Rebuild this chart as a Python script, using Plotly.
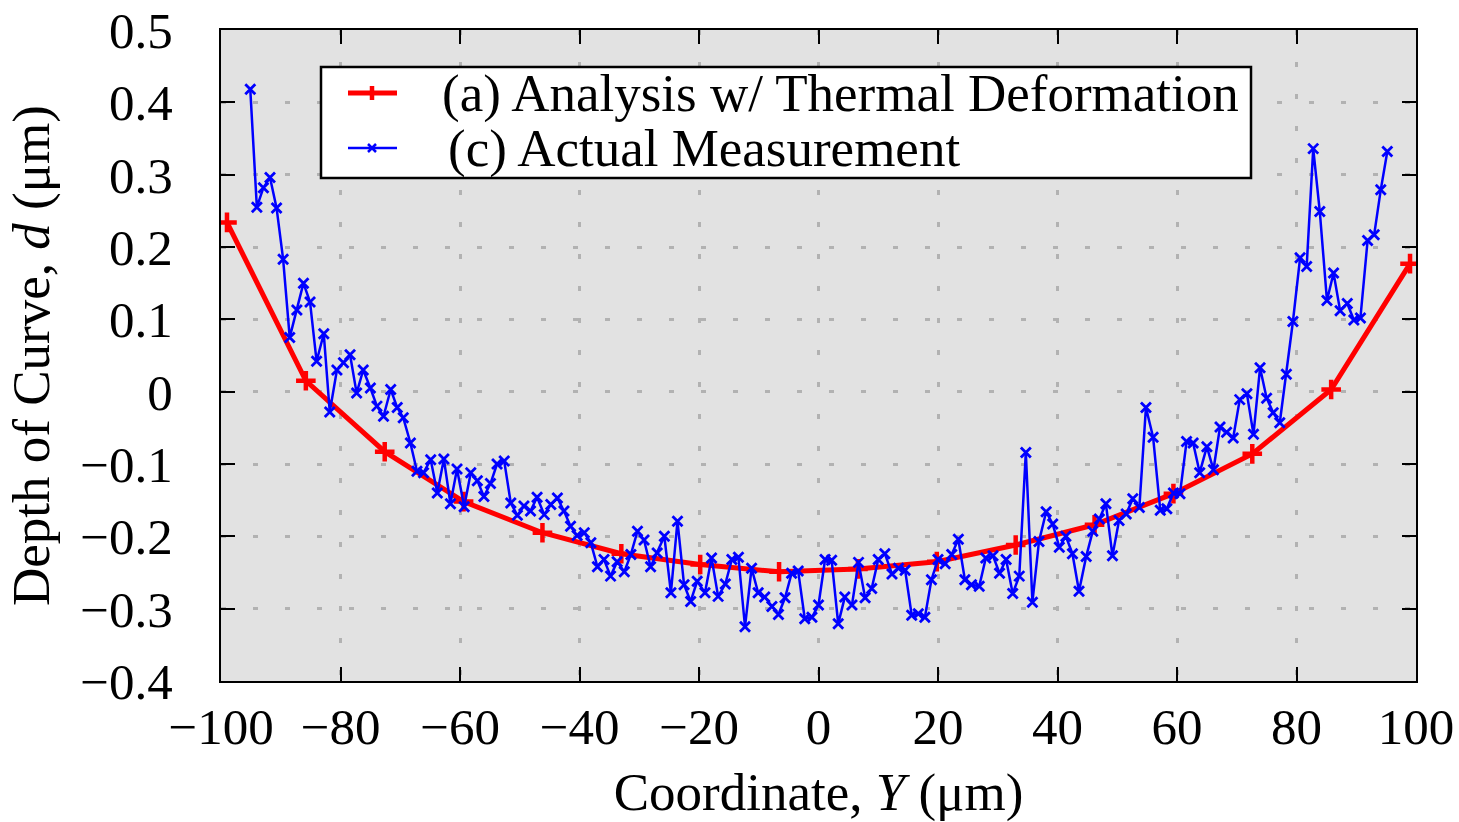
import plotly.graph_objects as go

# (a) Analysis w/ Thermal Deformation
analysis_x = [-99.0, -85.8, -72.6, -59.4, -46.2, -33.0, -19.8, -6.6,
              6.6, 19.8, 33.0, 46.2, 59.4, 72.6, 85.8, 99.0]
analysis_y = [0.234, 0.015, -0.083, -0.152, -0.195, -0.224, -0.239, -0.249,
              -0.245, -0.235, -0.212, -0.184, -0.141, -0.086, 0.003, 0.177]

# (c) Actual Measurement
meas_x = [-95.1, -94.0, -92.9, -91.8, -90.7, -89.6, -88.5, -87.3, -86.2, -85.1,
          -84.0, -82.8, -81.8, -80.6, -79.5, -78.4, -77.3, -76.2, -75.0, -73.9,
          -72.8, -71.6, -70.5, -69.5, -68.3, -67.2, -66.1, -64.9, -63.8, -62.7,
          -61.6, -60.5, -59.3, -58.2, -57.1, -56.0, -54.9, -53.8, -52.6, -51.5,
          -50.4, -49.3, -48.2, -47.1, -45.9, -44.8, -43.7, -42.6, -41.5, -40.4,
          -39.2, -38.1, -37.0, -35.9, -34.8, -33.7, -32.5, -31.4, -30.3, -29.2,
          -28.1, -27.0, -25.8, -24.7, -23.6, -22.5, -21.4, -20.3, -19.0, -17.9,
          -16.8, -15.6, -14.5, -13.4, -12.3, -11.2, -10.1, -9.0, -7.8, -6.7,
          -5.6, -4.5, -3.4, -2.3, -1.1, 0.0, 1.1, 2.2, 3.3, 4.4,
          5.6, 6.7, 7.8, 8.9, 10.0, 11.1, 12.3, 13.4, 14.5, 15.6,
          16.7, 17.8, 18.9, 20.0, 21.2, 22.3, 23.4, 24.5, 25.6, 26.9,
          28.0, 29.2, 30.3, 31.4, 32.5, 33.6, 34.7, 35.8, 36.9, 38.1,
          39.2, 40.3, 41.4, 42.5, 43.6, 44.8, 45.9, 47.0, 48.1, 49.2,
          50.3, 51.5, 52.6, 53.7, 54.8, 56.0, 57.2, 58.3, 59.4, 60.5,
          61.6, 62.7, 63.8, 65.0, 66.1, 67.2, 68.3, 69.4, 70.5, 71.7,
          72.8, 73.9, 75.0, 76.1, 77.2, 78.3, 79.4, 80.6, 81.7, 82.8,
          83.9, 85.1, 86.2, 87.3, 88.5, 89.6, 90.7, 91.9, 93.0, 94.1,
          95.2]
meas_y = [0.418, 0.255, 0.282, 0.296, 0.254, 0.183, 0.075, 0.113, 0.150, 0.124,
          0.042, 0.080, -0.028, 0.030, 0.040, 0.051, -0.002, 0.030, 0.005, -0.020,
          -0.034, 0.003, -0.022, -0.036, -0.071, -0.110, -0.112, -0.094, -0.140, -0.093,
          -0.155, -0.107, -0.159, -0.112, -0.123, -0.145, -0.127, -0.100, -0.096, -0.154,
          -0.171, -0.158, -0.165, -0.146, -0.170, -0.156, -0.147, -0.165, -0.186, -0.199,
          -0.195, -0.209, -0.242, -0.232, -0.255, -0.235, -0.249, -0.225, -0.193, -0.205,
          -0.242, -0.223, -0.200, -0.278, -0.179, -0.267, -0.290, -0.262, -0.278, -0.230,
          -0.283, -0.266, -0.232, -0.229, -0.325, -0.244, -0.278, -0.284, -0.297, -0.308,
          -0.285, -0.251, -0.248, -0.314, -0.312, -0.295, -0.232, -0.233, -0.321, -0.284,
          -0.295, -0.236, -0.285, -0.272, -0.232, -0.224, -0.252, -0.244, -0.247, -0.309,
          -0.307, -0.312, -0.260, -0.232, -0.238, -0.225, -0.204, -0.260, -0.267, -0.269,
          -0.230, -0.227, -0.251, -0.232, -0.279, -0.255, -0.084, -0.291, -0.207, -0.166,
          -0.183, -0.215, -0.200, -0.224, -0.276, -0.228, -0.193, -0.176, -0.155, -0.227,
          -0.178, -0.169, -0.148, -0.160, -0.022, -0.063, -0.164, -0.162, -0.140, -0.141,
          -0.069, -0.071, -0.112, -0.076, -0.108, -0.049, -0.056, -0.064, -0.011, -0.003,
          -0.059, 0.033, -0.009, -0.029, -0.043, 0.024, 0.097, 0.185, 0.173, 0.336,
          0.249, 0.126, 0.164, 0.112, 0.122, 0.099, 0.102, 0.209, 0.217, 0.279,
          0.332]

series_names = ["(a) Analysis w/ Thermal Deformation", "(c) Actual Measurement"]

x_ticks = [-100, -80, -60, -40, -20, 0, 20, 40, 60, 80, 100]
y_ticks = [-0.4, -0.3, -0.2, -0.1, 0, 0.1, 0.2, 0.3, 0.4, 0.5]
y_tick_text = ["\u22120.4", "\u22120.3", "\u22120.2", "\u22120.1", "0",
               "0.1", "0.2", "0.3", "0.4", "0.5"]
x_tick_text = ["\u2212100", "\u221280", "\u221260", "\u221240", "\u221220", "0",
               "20", "40", "60", "80", "100"]

FONT = "Liberation Serif, Times New Roman, serif"
RED = "#ff0000"
BLUE = "#0000ff"
FS = 51      # tick labels
FT = 53      # axis titles and legend

W, H = 1459, 822
ML, MR, MT, MB = 221, 43, 30, 141
PW, PH = W - ML - MR, H - MT - MB


def px(xp):
    return (xp - ML) / PW


def py(yp):
    return (H - MB - yp) / PH


fig = go.Figure()
fig.add_trace(go.Scatter(
    x=analysis_x, y=analysis_y, mode="lines+markers", name=series_names[0],
    line=dict(color=RED, width=5),
    marker=dict(symbol="cross-thin", size=14, color=RED,
                line=dict(color=RED, width=4.5)),
    showlegend=False,
))
fig.add_trace(go.Scatter(
    x=meas_x, y=meas_y, mode="lines+markers", name=series_names[1],
    line=dict(color=BLUE, width=2.5),
    marker=dict(symbol="x-thin", size=10, color=BLUE,
                line=dict(color=BLUE, width=2.8)),
    showlegend=False,
))

axis_common = dict(
    showline=True, linecolor="black", linewidth=2, mirror="ticks",
    ticks="inside", ticklen=14, tickwidth=2, tickcolor="black",
    showgrid=True, gridcolor="#b2b2b2", griddash="5px,27px", gridwidth=2.5,
    zeroline=False, automargin=False,
    tickfont=dict(family=FONT, size=FS, color="black"),
)

fig.update_xaxes(
    range=[-100, 100], tickvals=x_ticks, ticktext=x_tick_text,
    title=dict(text="Coordinate, <i>Y</i> (\u03bcm)",
               font=dict(family=FONT, size=FT, color="black"), standoff=20),
    ticklabelstandoff=0,
    **axis_common,
)
fig.update_yaxes(
    range=[-0.4, 0.5], tickvals=y_ticks, ticktext=y_tick_text,
    title=dict(text="Depth of Curve, <i>d</i> (\u03bcm)",
               font=dict(family=FONT, size=FT, color="black"), standoff=14),
    ticklabelstandoff=36,
    **axis_common,
)

# hand-drawn legend box (paper coordinates)
shapes = [dict(type="rect", xref="paper", yref="paper",
               x0=px(321), x1=px(1251), y0=py(178), y1=py(67),
               line=dict(color="black", width=2.5), fillcolor="white", layer="above")]
rows = [(93, RED, 5, 440), (148, BLUE, 2.5, 446)]
annotations = []
for i, (yc, col, lw, tx) in enumerate(rows):
    shapes.append(dict(type="line", xref="paper", yref="paper",
                       x0=px(348), x1=px(397), y0=py(yc), y1=py(yc),
                       line=dict(color=col, width=lw), layer="above"))
    if i == 0:
        shapes.append(dict(type="line", xref="paper", yref="paper",
                           x0=px(372), x1=px(372), y0=py(yc - 7), y1=py(yc + 7),
                           line=dict(color=col, width=4.5), layer="above"))
    else:
        for d in (1, -1):
            shapes.append(dict(type="line", xref="paper", yref="paper",
                               x0=px(368), x1=px(376), y0=py(yc - 4 * d), y1=py(yc + 4 * d),
                               line=dict(color=col, width=2.5), layer="above"))
    annotations.append(dict(
        xref="paper", yref="paper", x=px(tx), y=py(yc), xanchor="left", yanchor="middle",
        text=series_names[i], showarrow=False,
        font=dict(family=FONT, size=FT, color="black")))

fig.update_layout(
    width=W, height=H,
    margin=dict(l=ML, r=MR, t=MT, b=MB),
    paper_bgcolor="white", plot_bgcolor="#e2e2e2",
    font=dict(family=FONT, size=FS, color="black"),
    showlegend=False,
    shapes=shapes, annotations=annotations,
)

fig.write_html("out.html")
